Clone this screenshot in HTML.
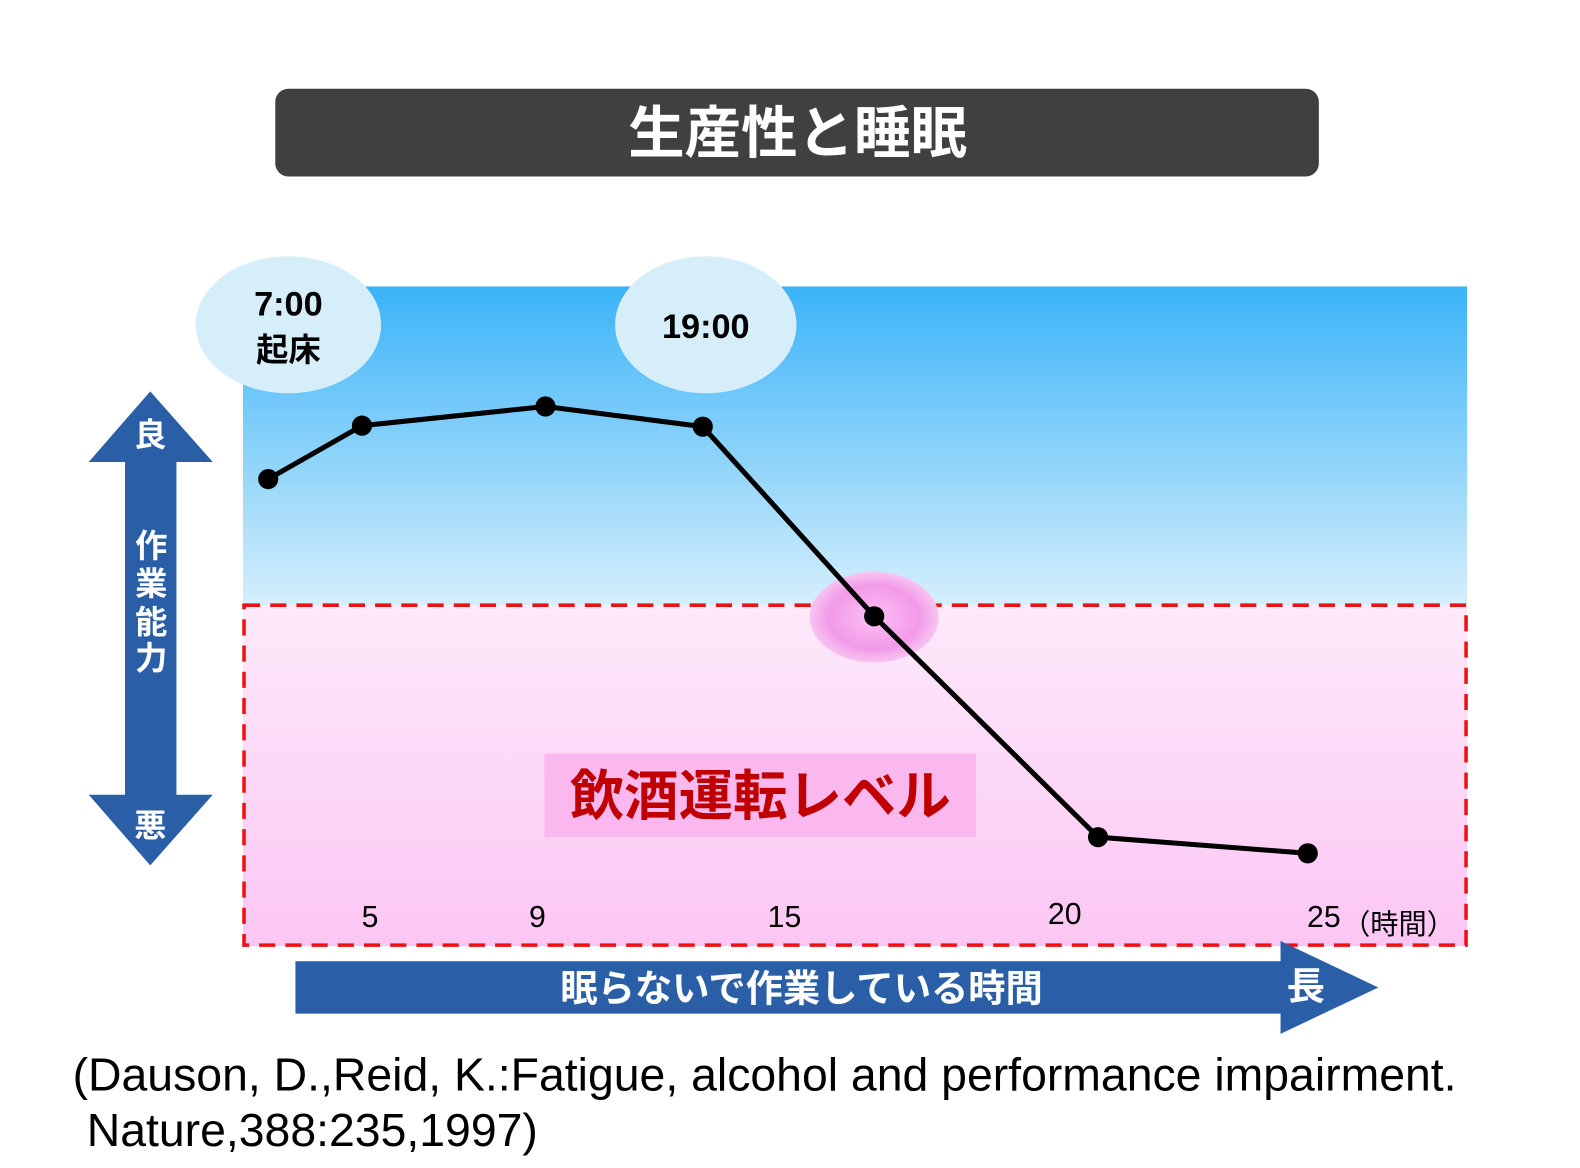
<!DOCTYPE html>
<html><head><meta charset="utf-8"><style>
html,body{margin:0;padding:0;background:#fff}
svg{display:block}
</style></head><body>
<svg width="1580" height="1168" viewBox="0 0 1567 1158" preserveAspectRatio="none" xmlns="http://www.w3.org/2000/svg" font-family="'Liberation Sans','Noto Sans CJK JP',sans-serif">
<defs>
<linearGradient id="bl" x1="0" y1="0" x2="0" y2="1"><stop offset="0" stop-color="#3ab3f8"/><stop offset="1" stop-color="#d6effc"/></linearGradient>
<linearGradient id="pk" x1="0" y1="0" x2="0" y2="1"><stop offset="0" stop-color="#fdeafa"/><stop offset="1" stop-color="#fcc6f4"/></linearGradient>
<radialGradient id="gl" cx="0.5" cy="0.5" r="0.5"><stop offset="0" stop-color="#fcc0f4"/><stop offset="0.7" stop-color="#f29ae8"/><stop offset="1" stop-color="#f7c4f1"/></radialGradient>
</defs>
<rect x="273" y="88" width="1035" height="87" rx="13" fill="#404040"/>
<text x="791" y="151" font-size="56" font-weight="bold" fill="#fff" text-anchor="middle">生産性と睡眠</text>
<rect x="241" y="284" width="1214" height="316" fill="url(#bl)"/>
<rect x="241" y="600" width="1214" height="338" fill="url(#pk)"/>
<rect x="242" y="600" width="1212" height="337" fill="none" stroke="#ee1111" stroke-width="3.5" stroke-dasharray="16,10"/>
<ellipse cx="286" cy="322" rx="92" ry="68" fill="#d6eefa"/>
<ellipse cx="700" cy="322" rx="90" ry="68" fill="#d6eefa"/>
<text x="286" y="313" font-size="34" font-weight="bold" text-anchor="middle">7:00</text>
<text x="286" y="358" font-size="32" font-weight="bold" text-anchor="middle">起床</text>
<text x="700" y="335" font-size="34" font-weight="bold" text-anchor="middle">19:00</text>
<ellipse cx="867" cy="612" rx="64" ry="45" fill="url(#gl)"/>
<rect x="540" y="747" width="428" height="83" fill="#fbb8ef"/>
<text x="754" y="808" font-size="54" font-weight="bold" fill="#c00000" text-anchor="middle">飲酒運転レベル</text>
<polyline points="266,475 359,422 541,403 697,423 867,611 1089,830 1297,846" fill="none" stroke="#000" stroke-width="5"/>
<g fill="#000"><circle cx="266" cy="475" r="10"/><circle cx="359" cy="422" r="10"/><circle cx="541" cy="403" r="10"/><circle cx="697" cy="423" r="10"/><circle cx="867" cy="611" r="10"/><circle cx="1089" cy="830" r="10"/><circle cx="1297" cy="846" r="10"/></g>
<g font-size="30" text-anchor="middle" fill="#000">
<text x="367" y="919">5</text><text x="533" y="919">9</text><text x="778" y="919">15</text><text x="1056" y="916">20</text><text x="1313" y="919">25</text>
</g>
<text x="1387" y="926" font-size="28" text-anchor="middle">（時間）</text>
<path d="M149,388 L211,458 L175,458 L175,788 L211,788 L149,858 L88,788 L124,788 L124,458 L88,458 Z" fill="#2a5fa8"/>
<text x="149" y="442" font-size="32" font-weight="bold" fill="#fff" text-anchor="middle">良</text>
<text x="149" y="830" font-size="32" font-weight="bold" fill="#fff" text-anchor="middle">悪</text>
<g font-size="32" font-weight="bold" fill="#fff" text-anchor="middle">
<text x="150" y="552">作</text><text x="150" y="590">業</text><text x="150" y="628">能</text><text x="150" y="664">力</text>
</g>
<path d="M293,953 L1270,953 L1270,933 L1367,979 L1270,1025 L1270,1005 L293,1005 Z" fill="#2a5fa8"/>
<text x="795" y="993" font-size="37" font-weight="bold" fill="#fff" text-anchor="middle">眠らないで作業している時間</text>
<text x="1295" y="991" font-size="38" font-weight="bold" fill="#fff" text-anchor="middle">長</text>
<text x="72" y="1081" font-size="46" fill="#000">(Dauson, D.,Reid, K.:Fatigue, alcohol and performance impairment.</text>
<text x="86" y="1136" font-size="46" fill="#000">Nature,388:235,1997)</text>
</svg>
</body></html>
